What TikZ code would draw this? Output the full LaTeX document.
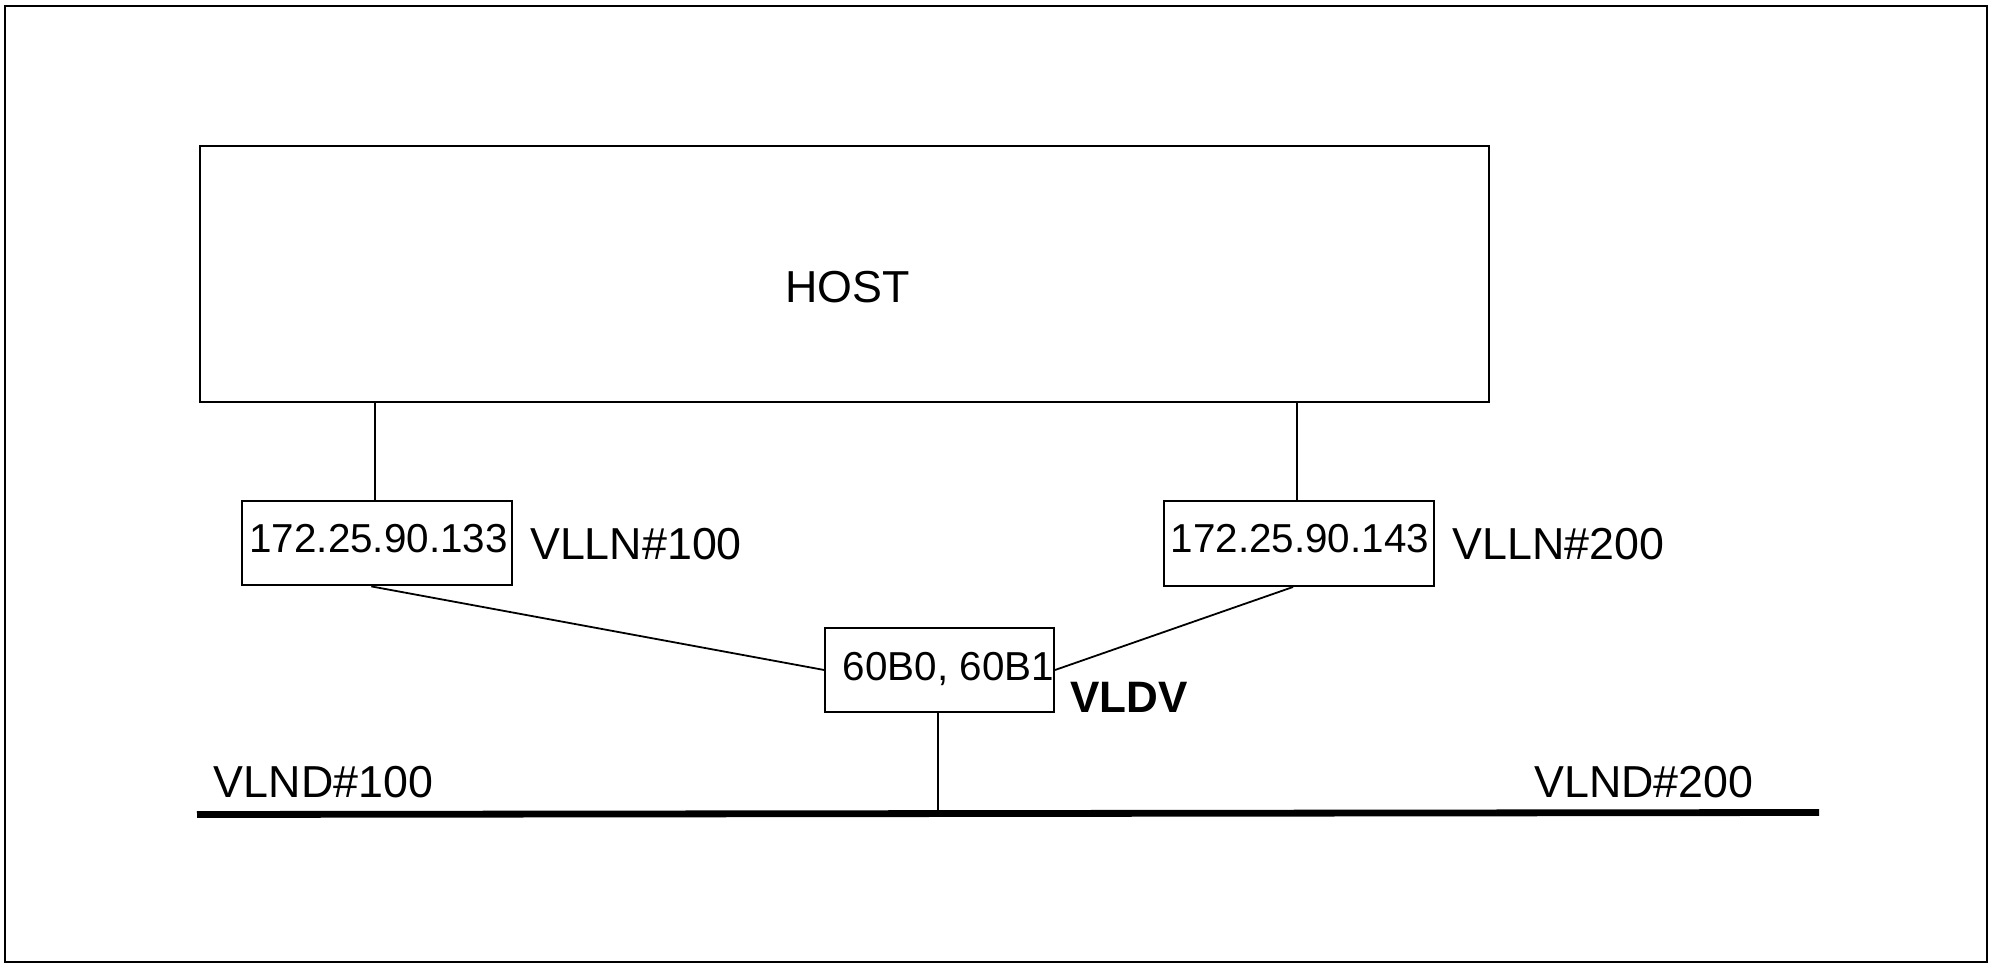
\documentclass[tikz,border=0pt]{standalone}
\usepackage{fontspec}
\setmainfont{Liberation Sans}
\begin{document}
\begin{tikzpicture}[x=0.5pt,y=-0.5pt,
  box/.style={draw,line width=1pt,inner sep=0pt,rectangle},
  link/.style={line width=0.9pt},
  bus/.style={line width=3.4pt},
  big/.style={font=\fontsize{22.4}{26}\selectfont,inner sep=0pt,anchor=base},
  small/.style={font=\fontsize{20.2}{24}\selectfont,inner sep=0pt,anchor=base}]
\useasboundingbox (0,0) rectangle (1994,968);
\draw[line width=1pt] (4.5,6) rectangle (1987,961.5);
% boxes
\node[box,minimum width=644.5pt,minimum height=128pt] (host) at (844.5,274) {};
\node[box,minimum width=134.9pt,minimum height=42.4pt] (lbox) at (377.3,543) {};
\node[box,minimum width=135.2pt,minimum height=42.7pt] (rbox) at (1299,543.3) {};
\node[box,minimum width=114.4pt,minimum height=42.35pt] (vldv) at (939.6,670) {};
% texts
\node[big] (hosttxt) at (847.3,302.3) {HOST};
\node[small] (lip) at (378.6,552.8) {172.25.90.133};
\node[big] (llln) at (636,559.4) {VLLN\#100};
\node[small] (rip) at (1299.8,552.8) {172.25.90.143};
\node[big] (rlln) at (1558.5,559.4) {VLLN\#200};
\node[small] (dev) at (948.5,680.7) {60B0, 60B1};
\node[big,font=\fontsize{22}{26}\selectfont\bfseries] (vldvtxt) at (1129.3,712.3) {VLDV};
\node[big] (lnd1) at (323.5,797) {VLND\#100};
\node[big] (lnd2) at (1644,797) {VLND\#200};
% bus
\coordinate (busL) at (197,814.5);
\coordinate (busR) at (1819,812.5);
\coordinate (busJ) at (939.6,811);
\draw[bus] (busL) -- (busR);
% connectors
\draw[link] (lbox.north) ++(-2,0) coordinate (lt) -- (lt |- host.south);
\draw[link] (rbox.north) ++(-2,0) coordinate (rt) -- (rt |- host.south);
\draw[link] (lbox.south) ++(-6,0) coordinate (ls) -- (vldv.west);
\draw[link] (rbox.south) ++(-6,0) coordinate (rs) -- (vldv.east);
\draw[link] (vldv.south) ++(-2,0) coordinate (vs) -- (vs |- busJ);
\end{tikzpicture}
\end{document}
